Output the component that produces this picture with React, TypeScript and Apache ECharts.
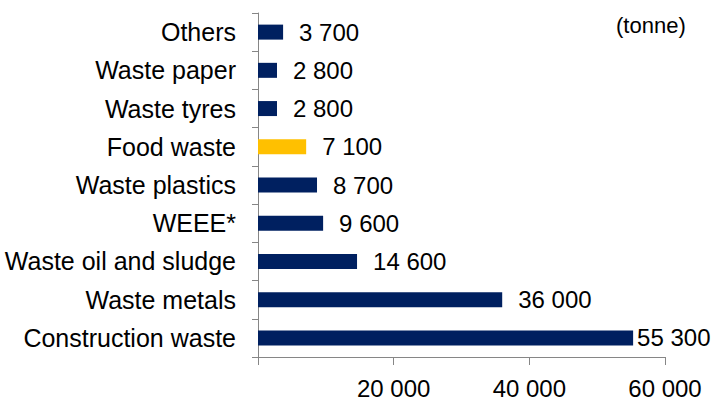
import React, { useEffect, useRef } from "react";
import * as echarts from "echarts";

const categories = [
  "Construction waste",
  "Waste metals",
  "Waste oil and sludge",
  "WEEE*",
  "Waste plastics",
  "Food waste",
  "Waste tyres",
  "Waste paper",
  "Others",
];
const values = [55300, 36000, 14600, 9600, 8700, 7100, 2800, 2800, 3700];
const highlighted = ["Food waste"];
const unitLabel = "(tonne)";

const NAVY = "#002060";
const YELLOW = "#FFC000";
const FONT = "Liberation Sans, Arial, sans-serif";

const fmt = (v: number) =>
  String(Math.round(v)).replace(/\B(?=(\d{3})+(?!\d))/g, " ");

export default function App() {
  const ref = useRef<HTMLDivElement>(null);
  useEffect(() => {
    document.body.style.margin = "0";
    const chart = echarts.init(ref.current!, null, { renderer: "svg" });
    chart.setOption({
      animation: false,
      backgroundColor: "#ffffff",
      textStyle: { fontFamily: FONT },
      grid: {
        left: 258,
        right: 47,
        top: 13,
        bottom: 46,
        containLabel: false,
        outerBoundsMode: "none",
      },
      xAxis: {
        type: "value",
        min: 0,
        max: 60000,
        interval: 20000,
        axisLine: { show: true, lineStyle: { color: "#868686", width: 1 } },
        axisTick: { show: true, length: 8, lineStyle: { color: "#868686" } },
        splitLine: { show: false },
        axisLabel: {
          formatter: (v: number) => (v === 0 ? "" : fmt(v)),
          margin: 19,
          fontSize: 24,
          lineHeight: 24,
          color: "#000",
          fontFamily: FONT,
        },
      },
      yAxis: {
        type: "category",
        data: categories,
        axisLine: { show: true, lineStyle: { color: "#868686", width: 1 } },
        axisTick: { show: true, length: 6, lineStyle: { color: "#868686" } },
        axisLabel: {
          margin: 22,
          fontSize: 25,
          color: "#000",
          fontFamily: FONT,
        },
      },
      graphic: [
        {
          type: "text",
          left: 616,
          top: 14,
          style: { text: unitLabel, fontSize: 22, fill: "#000", font: `22px ${FONT}` },
        },
      ],
      series: [
        {
          type: "bar",
          barWidth: 15,
          data: values.map((v, i) => ({
            value: v,
            itemStyle: { color: highlighted.includes(categories[i]) ? YELLOW : NAVY },
            label: {
              show: true,
              position: "right",
              distance: i === 0 ? 4 : 16,
              formatter: (p: any) => fmt(p.value),
              fontSize: 24,
              color: "#000",
              fontFamily: FONT,
            },
          })),
        },
      ],
    });
    return () => chart.dispose();
  }, []);
  return <div ref={ref} style={{ width: 712, height: 403 }} />;
}
